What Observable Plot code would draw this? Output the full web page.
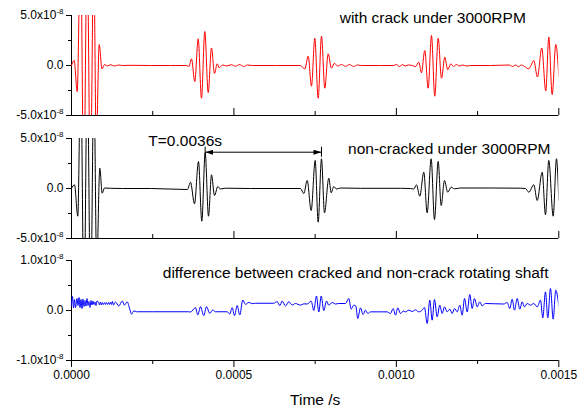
<!DOCTYPE html>
<html><head><meta charset="utf-8">
<script src="https://cdn.jsdelivr.net/npm/d3@7"></script>
<script src="https://cdn.jsdelivr.net/npm/@observablehq/plot@0.6"></script>
<style>
body{margin:0;background:#fff;}
#chart{width:586px;height:412px;}
#chart svg{display:block;}
</style></head><body><div id="chart"></div>
<script>
// ---- data: [time (µs), amplitude] ----
// with crack (units 1e-8)
const crackSignal = [[0,0],[8.3,0.5],[17.5,-2.6],[27.7,12],[37.9,-12],[48.0,12],[58.2,-12],[68.3,11],[76.3,-8],[85.3,2.1],[93.9,-0.35],[101.6,0.1],[110.8,-0.05],[120.0,0.08],[132.4,-0.05],[144.7,0.05],[157.0,0],[181.6,0.02],[243.2,0],[304.7,0],[354.0,0],[361.7,-0.1],[369.4,0.67],[379.5,-1.6],[390.0,2.67],[400.1,-3.27],[410.3,3.4],[420.8,-2.7],[430.9,1.75],[440.2,-0.8],[448.5,0.17],[454.6,-0.23],[464.8,0.05],[477.1,-0.05],[492.5,0.08],[504.8,-0.08],[517.1,0.1],[529.4,-0.1],[541.7,0.05],[557.1,0],[627.9,0],[704.9,0],[718.1,-0.35],[728.6,0.93],[738.7,-2.07],[748.9,2.73],[759.3,-3.27],[769.5,2.93],[779.7,-2.27],[790.1,1.17],[800.3,-0.27],[809.5,0.23],[818.7,-0.05],[831.1,0.1],[843.4,-0.08],[855.7,0.1],[868.0,-0.1],[880.3,0.05],[892.6,0],[951.1,0],[991.1,0],[1000.4,0.1],[1009.6,-0.1],[1018.8,0.08],[1028.1,-0.05],[1037.3,0.05],[1049.6,0],[1058.8,-0.1],[1069.0,0.33],[1077.3,-0.73],[1087.4,1.5],[1097.9,-2.27],[1108.1,3.0],[1118.2,-3.07],[1128.7,2.73],[1138.9,-1.27],[1149.0,0.83],[1158.2,-0.43],[1167.5,0.17],[1175.8,-0.1],[1185.0,0.1],[1194.3,-0.05],[1203.5,0.05],[1215.8,-0.05],[1228.1,0],[1289.7,0],[1348.2,0.05],[1357.4,-0.1],[1366.6,0.05],[1375.9,-0.12],[1385.1,0.05],[1394.3,-0.1],[1407.6,-0.33],[1414.3,0],[1423.0,0.5],[1434.3,-1.15],[1447.6,1.75],[1459.9,-2.55],[1469.2,2.85],[1479.6,-2.9],[1490.7,2.1],[1500.0,-1.1]];
// non-cracked (units 1e-8)
const intactSignal = [[0,0],[9.2,0.37],[19.4,-2.77],[28.3,12],[38.5,-12],[48.6,12],[58.8,-12],[68.9,11],[77.6,-8],[87.1,2.03],[94.5,-0.47],[101.6,0.05],[120.0,0.02],[157.0,0],[243.2,0],[357.0,-0.1],[366.3,0.63],[378.6,-1.53],[390.9,2.7],[401.1,-3.27],[411.5,3.57],[421.7,-2.77],[430.9,1.37],[440.2,-0.7],[450.3,0.2],[458.6,-0.05],[474.0,0.03],[551.0,0],[704.9,0],[715.0,-0.5],[725.5,0.8],[737.8,-2.2],[750.1,2.8],[759.3,-3.37],[769.5,2.97],[778.7,-2.43],[792.0,1.03],[799.4,-0.43],[807.4,0.2],[815.7,-0.05],[828.0,0.05],[889.5,0.02],[1012.7,0.02],[1043.4,0],[1053.6,-0.05],[1061.9,0.37],[1072.1,-0.77],[1084.4,1.63],[1094.8,-2.43],[1107.1,2.97],[1117.3,-3.1],[1128.7,2.7],[1137.9,-1.7],[1148.1,0.8],[1158.2,-0.37],[1168.7,0.13],[1178.9,-0.03],[1197.4,0.05],[1289.7,0.05],[1382.0,0.03],[1397.4,0],[1407.6,-0.37],[1423.0,0.37],[1433.5,-1.2],[1448.9,1.63],[1459.0,-2.63],[1469.2,2.8],[1482.7,-2.77],[1492.8,2.97],[1500.0,-1.2]];
// difference (units 1e-9)
const diffSignal = [[0,1.0],[3.1,2.8],[6.2,0.5],[9.2,2.2],[12.3,0.6],[16.9,2.4],[20.0,1.0],[23.1,2.6],[26.2,0.6],[29.2,2.2],[32.3,0.4],[35.4,2.3],[38.5,0.8],[41.6,2.0],[44.6,0.9],[47.7,2.4],[50.8,1.0],[53.9,1.8],[56.9,0.6],[60.0,2.0],[63.1,1.1],[66.2,1.9],[69.3,1.2],[72.3,1.7],[75.4,1.0],[78.5,1.9],[83.1,1.7],[86.2,1.1],[89.3,1.7],[92.3,1.1],[95.4,1.6],[98.5,1.2],[101.6,1.6],[104.7,1.2],[107.7,1.6],[110.8,1.2],[113.9,1.6],[117.0,1.2],[120.0,1.7],[123.1,1.2],[126.2,1.8],[129.3,1.1],[135.4,1.7],[145.6,0.9],[156.1,1.9],[163.1,1.07],[171.4,1.73],[179.4,0.27],[184.7,-0.73],[191.8,-0.07],[200.1,-0.25],[250,-0.25],[300,-0.25],[360.1,-0.25],[366.3,-0.3],[381.7,0.57],[388.8,-0.9],[397.1,0.77],[407.2,-1.03],[415.5,0.77],[425.7,-0.57],[434.9,0.1],[443.2,-0.25],[479.2,-0.25],[487.2,-0.7],[494.6,0.57],[501.7,-1.03],[510.0,0.97],[518.0,-0.9],[527.3,2.1],[535.6,1.23],[545.7,1.63],[556.2,1.37],[566.4,1.45],[621.8,1.45],[633.2,1.77],[641.2,0.97],[648.5,1.9],[658.7,0.9],[668.8,1.77],[679.3,1.1],[689.5,1.4],[704.9,1.07],[715.0,1.33],[725.5,1.3],[737.8,1.87],[745.8,0.0],[754.1,2.9],[761.2,-0.3],[768.6,2.9],[776.6,0.0],[784.9,1.87],[792.0,1.07],[802.4,1.6],[812.6,1.3],[822.7,1.4],[843.4,1.4],[853.5,2.4],[860.9,0.27],[868.9,1.07],[875.1,0.9],[881.2,-1.6],[889.5,0.53],[897.8,-0.8],[904.9,0.07],[912.0,-0.6],[920.3,-0.27],[971.7,-0.27],[981.8,-0.6],[990.2,0.4],[997.3,-0.93],[1004.3,0.53],[1012.7,-0.6],[1021.0,-0.13],[1028.1,-0.27],[1038.2,0.07],[1048.7,-0.2],[1058.8,0.13],[1069.0,-0.27],[1079.5,0.07],[1086.5,0.6],[1094.8,-2.6],[1102.8,2.07],[1110.2,-1.93],[1117.3,2.2],[1125.6,-1.27],[1133.6,1.07],[1141.0,-0.6],[1148.1,0.73],[1156.4,-0.27],[1164.4,0.27],[1171.8,-0.6],[1178.9,0.4],[1187.2,-0.27],[1195.2,1.07],[1202.6,-0.93],[1209.7,2.4],[1218.0,-0.27],[1226.0,3.2],[1233.3,0.4],[1240.4,2.4],[1248.7,0.73],[1256.7,1.73],[1264.1,0.93],[1274.3,1.4],[1330.6,1.3],[1341.1,1.6],[1349.1,0.4],[1356.5,2.27],[1363.5,0.07],[1371.9,2.4],[1379.9,0.27],[1387.2,1.73],[1394.3,0.73],[1402.6,1.4],[1412.8,1.07],[1423.0,1.4],[1433.4,0.73],[1443.6,2.07],[1450.7,-1.47],[1459.0,3.73],[1466.1,-1.47],[1474.4,4.4],[1482.7,-1.73],[1490.7,4.07],[1500.0,0.93]];

const xMajorTicks = [0, 0.0005, 0.0010, 0.0015];
const xMinorTicks = [0.00025, 0.00075, 0.00125];
const yTicksBig = [-5e-8, 0, 5e-8];
const yMinorBig = [-2.5e-8, 2.5e-8];
const yTicksSmall = [-1e-8, 0, 1e-8];
const yMinorSmall = [-0.5e-8, 0.5e-8];
const titles = ["with crack under 3000RPM", "non-cracked under 3000RPM", "difference between cracked and non-crack rotating shaft"];
const xLabel = "Time /s";
const period = {startUs: 411.5, endUs: 769.5, level: 3.63, label: "T=0.0036s"};

const toRows = (arr, unit) => arr.map(([t, v]) => ({t: t * 1e-6, v: v * unit}));
const FONT = "'Liberation Sans', Arial, Helvetica, sans-serif";
const fmtY = d => d === 0 ? "0.0" : (d / 1e-8).toFixed(1) + "x10^-8";
const fmtX = d3.format(".4f");

function panel(o) {
  const innerH = o.height - o.mt - o.mb;
  const marks = [
    Plot.ruleX([0], {stroke: "black", strokeWidth: 1}),
    Plot.ruleY([o.yDomain[0]], {stroke: "black", strokeWidth: 1}),
    Plot.axisY(o.yTicks, {tickSize: 5, tickPadding: 3, tickFormat: fmtY, fontSize: 12, label: null}),
    Plot.axisY(o.yMinor, {tickSize: 3, tickFormat: () => "", label: null})
  ];
  if (o.xLabels) {
    marks.push(Plot.axisX(xMajorTicks, {tickSize: 7, tickPadding: 3, tickFormat: fmtX, fontSize: 12, label: null}));
    marks.push(Plot.axisX(xMinorTicks, {tickSize: 4, tickFormat: () => "", label: null}));
    marks.push(Plot.text([xLabel], {frameAnchor: "bottom", dy: 40, lineAnchor: "middle", textAnchor: "middle", fontSize: 15.5, fill: "black"}));
  } else {
    marks.push(Plot.ruleX(xMajorTicks, {insetTop: innerH - 7, stroke: "black"}));
    marks.push(Plot.ruleX(xMinorTicks, {insetTop: innerH - 4, stroke: "black"}));
  }
  marks.push(Plot.line(o.data, {x: "t", y: "v", stroke: o.color, strokeWidth: 1, curve: "monotone-x", clip: true}));
  marks.push(Plot.text([o.title], {frameAnchor: "top-right", dx: o.tdx, dy: o.tdy, textAnchor: "end", lineAnchor: "middle", fontSize: 15.5, fill: "black"}));
  if (o.extra) marks.push(...o.extra);
  return Plot.plot({
    width: 586, height: o.height,
    marginLeft: 71, marginRight: 27.7, marginTop: o.mt, marginBottom: o.mb,
    style: {fontFamily: FONT, fontSize: "12px", color: "black", background: "white", overflow: "visible"},
    x: {domain: [0, 0.0015], axis: o.xLabels ? undefined : null, label: null},
    y: {domain: o.yDomain, label: null},
    marks
  });
}

const periodRows = [{x1: period.startUs * 1e-6, x2: period.endUs * 1e-6, y: period.level * 1e-8}];
const p1 = panel({height: 125, mt: 15, mb: 10, data: toRows(crackSignal, 1e-8), color: "#ff0000",
  yDomain: [-5e-8, 5e-8], yTicks: yTicksBig, yMinor: yMinorBig, title: titles[0], tdx: -33, tdy: 2.3});
const p2 = panel({height: 120, mt: 13, mb: 7, data: toRows(intactSignal, 1e-8), color: "#000000",
  yDomain: [-5e-8, 5e-8], yTicks: yTicksBig, yMinor: yMinorBig, title: titles[1], tdx: -8.3, tdy: 10.3,
  extra: [
    Plot.link(periodRows, {x1: "x1", x2: "x2", y1: "y", y2: "y", stroke: "black", strokeWidth: 1}),
    Plot.ruleX(periodRows, {x: "x1", y1: d => d.y - 0.5e-8, y2: d => d.y + 0.5e-8, stroke: "black"}),
    Plot.ruleX(periodRows, {x: "x2", y1: d => d.y - 0.5e-8, y2: d => d.y + 0.5e-8, stroke: "black"}),
    Plot.text(periodRows, {x: "x1", y: "y", text: () => period.label, dx: -20, dy: -10.7, textAnchor: "middle", lineAnchor: "middle", fontSize: 15.5, fill: "black"})
  ]});
const p3 = panel({height: 167, mt: 15, mb: 52, data: toRows(diffSignal, 1e-9), color: "#0000ff",
  yDomain: [-1e-8, 1e-8], yTicks: yTicksSmall, yMinor: yMinorSmall, title: titles[2], tdx: -10.3, tdy: 12.3, xLabels: true});

const NS = "http://www.w3.org/2000/svg";
for (const svg of [p1, p2, p3]) {
  svg.querySelectorAll('g[aria-label="y-axis tick label"] text').forEach(t => {
    const s = t.textContent;
    if (s.includes("^")) {
      const [a, b] = s.split("^");
      t.textContent = a;
      const ts = document.createElementNS(NS, "tspan");
      ts.setAttribute("dy", "-5");
      ts.setAttribute("font-size", "8");
      ts.textContent = b;
      t.appendChild(ts);
    }
  });
}
// double-headed arrow markers on the period link
{
  const defs = document.createElementNS(NS, "defs");
  defs.innerHTML = '<marker id="ah" viewBox="0 0 8 5" refX="8" refY="2.5" markerWidth="8" markerHeight="5" markerUnits="userSpaceOnUse" orient="auto-start-reverse"><path d="M0,0L8,2.5L0,5Z" fill="black"/></marker>';
  p2.insertBefore(defs, p2.firstChild);
  p2.querySelectorAll('g[aria-label="link"] path').forEach(p => {
    p.setAttribute("marker-start", "url(#ah)");
    p.setAttribute("marker-end", "url(#ah)");
  });
}
const chart = document.getElementById("chart");
chart.append(p1, p2, p3);
</script></body></html>
